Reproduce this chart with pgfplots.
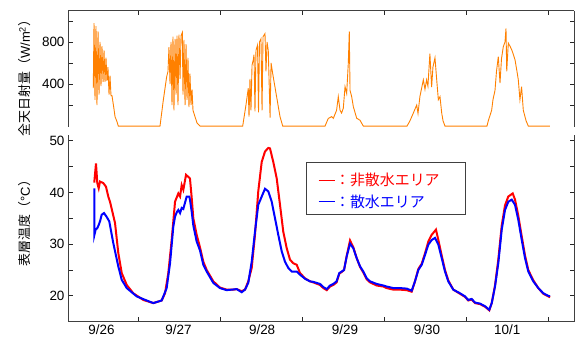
\documentclass[border=0pt]{standalone}
\usepackage{pgfplots}
\pgfplotsset{compat=1.18}
\usepackage{fontspec}
\setmainfont{Liberation Sans}
\newfontfamily\jp{Noto Sans CJK JP}
\definecolor{sunorange}{RGB}{255,128,0}
\definecolor{tred}{RGB}{255,0,0}
\definecolor{tblue}{RGB}{0,0,255}

\pgfplotstableread{
x y
0.451 360
0.460 980
0.472 250
0.484 950
0.496 200
0.509 900
0.521 300
0.533 800
0.545 380
0.557 760
0.570 420
0.582 720
0.594 420
0.606 650
0.618 430
0.630 560
0.643 300
0.655 480
0.667 290
0.679 290
0.704 160
0.716 90
0.741 40
0.756 0
1.265 0
1.302 230
1.346 470
1.362 520
1.374 750
1.387 400
1.399 800
1.411 200
1.423 850
1.435 150
1.448 830
1.460 300
1.472 860
1.484 200
1.496 870
1.509 450
1.521 860
1.537 890
1.545 300
1.557 820
1.570 200
1.582 780
1.594 250
1.606 650
1.618 180
1.630 500
1.643 200
1.655 350
1.667 150
1.691 90
1.716 30
1.752 0
2.273 0
2.313 200
2.341 360
2.350 90
2.362 450
2.374 150
2.387 580
2.402 630
2.411 680
2.423 140
2.435 720
2.454 770
2.466 130
2.478 800
2.496 830
2.509 150
2.521 850
2.545 880
2.557 520
2.570 800
2.585 720
2.607 80
2.619 600
2.643 480
2.667 370
2.704 200
2.728 90
2.761 0
3.277 0
3.317 73
3.359 90
3.378 73
3.418 150
3.439 280
3.460 150
3.479 124
3.500 170
3.521 375
3.541 310
3.561 600
3.573 900
3.582 340
3.602 280
3.622 185
3.663 75
3.704 55
3.744 0
4.277 0
4.313 50
4.354 124
4.395 200
4.411 120
4.434 280
4.476 440
4.496 350
4.516 440
4.532 380
4.556 690
4.577 370
4.593 560
4.618 650
4.639 440
4.659 250
4.679 280
4.700 124
4.716 50
4.740 0
5.252 0
5.268 50
5.309 150
5.325 250
5.350 340
5.368 520
5.390 660
5.411 410
5.429 640
5.451 755
5.472 800
5.484 930
5.493 520
5.512 790
5.533 760
5.554 725
5.570 690
5.594 630
5.618 520
5.634 440
5.654 250
5.674 375
5.695 150
5.729 50
5.756 0
6.020 0
}\sun

\pgfplotstableread{
x y
0.463 41.9
0.484 45.6
0.500 41.8
0.517 40.8
0.533 42.1
0.573 41.8
0.606 41.1
0.634 39.2
0.655 38.2
0.716 34.1
0.756 28.3
0.798 24.4
0.859 22.1
0.939 20.5
1.061 19.2
1.183 18.6
1.285 19.1
1.326 20.5
1.366 24.4
1.407 30.8
1.448 38.2
1.488 39.8
1.509 39.2
1.529 41.4
1.549 40.5
1.582 43.4
1.610 43.0
1.630 42.7
1.651 39.0
1.671 35.0
1.712 31.8
1.752 29.4
1.793 26.6
1.834 25.0
1.915 22.8
1.996 21.6
2.078 21.2
2.159 21.2
2.200 21.3
2.261 20.9
2.301 21.2
2.341 22.8
2.383 25.4
2.423 31.8
2.463 40.2
2.505 45.9
2.545 47.9
2.585 48.6
2.606 48.5
2.646 45.9
2.688 42.7
2.728 37.6
2.768 32.4
2.810 29.2
2.850 27.0
2.890 26.3
2.932 26.0
2.972 24.4
3.033 23.4
3.094 22.8
3.134 22.6
3.216 22.1
3.256 21.5
3.298 21.1
3.338 21.8
3.378 22.1
3.418 22.6
3.451 24.3
3.480 24.6
3.509 25.0
3.541 27.7
3.582 30.7
3.622 29.4
3.663 27.3
3.704 25.6
3.744 24.5
3.785 23.2
3.826 22.6
3.907 22.0
3.988 21.8
4.029 21.5
4.110 21.2
4.191 21.2
4.273 21.1
4.334 20.8
4.374 22.8
4.415 25.2
4.456 26.2
4.496 28.2
4.537 30.5
4.578 31.8
4.630 32.8
4.659 30.8
4.700 27.8
4.740 25.0
4.780 23.0
4.841 21.2
4.923 20.4
4.984 19.8
5.024 19.1
5.065 19.3
5.106 18.6
5.167 18.4
5.228 17.9
5.280 17.2
5.310 18.6
5.350 22.0
5.390 27.0
5.432 33.6
5.472 37.5
5.512 39.2
5.566 39.8
5.594 38.6
5.634 35.5
5.676 31.5
5.716 27.8
5.756 25.0
5.817 23.0
5.878 21.5
5.939 20.4
6.000 19.9
6.021 19.7
}\dry

\pgfplotstableread{
x y
0.463 40.8
0.465 31.8
0.480 32.8
0.500 33.1
0.517 33.7
0.533 34.4
0.554 35.7
0.582 36.0
0.613 35.3
0.646 34.4
0.695 30.2
0.756 25.7
0.798 23.1
0.859 21.5
0.980 19.9
1.102 19.1
1.183 18.6
1.285 19.1
1.346 21.5
1.387 26.3
1.427 33.4
1.448 35.3
1.470 36.2
1.488 36.6
1.509 36.0
1.529 37.0
1.549 36.8
1.590 39.2
1.622 39.2
1.630 38.6
1.651 36.3
1.671 33.6
1.712 30.5
1.752 28.8
1.793 26.0
1.834 24.7
1.915 22.5
1.996 21.5
2.078 21.1
2.200 21.3
2.261 20.7
2.301 21.2
2.341 22.5
2.383 26.6
2.423 32.4
2.463 37.6
2.505 39.2
2.545 40.7
2.585 40.2
2.627 38.2
2.667 35.0
2.707 31.8
2.749 28.6
2.789 26.6
2.829 25.4
2.871 24.7
2.932 24.7
2.972 24.1
3.033 23.3
3.094 22.8
3.134 22.7
3.216 22.3
3.256 21.7
3.298 21.3
3.338 22.0
3.378 22.3
3.418 22.8
3.451 24.4
3.480 24.7
3.509 25.0
3.541 27.6
3.582 30.1
3.622 29.2
3.663 27.3
3.704 25.7
3.744 24.7
3.785 23.4
3.826 22.8
3.907 22.3
3.988 22.0
4.029 21.8
4.110 21.5
4.191 21.5
4.273 21.4
4.334 21.0
4.374 22.8
4.415 25.0
4.456 26.0
4.496 27.9
4.537 29.9
4.578 30.8
4.618 31.2
4.659 29.9
4.700 27.3
4.740 24.7
4.780 22.8
4.841 21.2
4.923 20.5
4.984 19.9
5.024 19.2
5.065 19.4
5.106 18.7
5.167 18.5
5.228 18.0
5.280 17.3
5.310 18.6
5.350 21.8
5.390 26.3
5.432 32.8
5.472 36.6
5.512 38.2
5.554 38.6
5.594 37.6
5.634 34.7
5.676 30.8
5.716 27.3
5.756 24.7
5.817 22.8
5.878 21.5
5.939 20.5
6.000 20.0
6.021 19.9
}\wet

\pgfplotsset{
  common/.style={
    scale only axis, anchor=south west, width=506.3bp,
    xmin=0.1427, xmax=6.317,
    tick align=inside,
    major tick length=4.5bp, minor tick length=4.5bp,
    every tick/.style={black!85, line width=0.8bp},
    axis line style={black!75, line width=1bp},
    tick label style={font=\fontsize{13.5}{15}\selectfont},
    /pgf/number format/assume math mode=true,
    clip=false,
  }
}

\begin{document}
\begin{tikzpicture}
\useasboundingbox (0,0) rectangle (584bp,345bp);
\begin{axis}[common,
  at={(68bp,218.3bp)}, height=115.7bp,
  ymin=-6, ymax=1095,
  axis x line*=top,
  xtick={1,2,3,4,5,6}, xticklabels={},
  ytick={400,800}, minor ytick={200,600,1000},
]
\addplot[sunorange, line width=0.9bp] table[x=x,y=y] {\sun};
\end{axis}
\begin{axis}[common,
  at={(68bp,23.3bp)}, height=186.7bp,
  ymin=15, ymax=51.1,
  axis x line*=bottom,
  xtick={1,2,3,4,5,6}, xticklabels={},
  extra x ticks={0.55,1.49,2.51,3.52,4.52,5.5},
  extra x tick labels={9/26,9/27,9/28,9/29,9/30,10/1},
  extra x tick style={major tick length=0pt},
  ytick={20,30,40,50}, minor ytick={25,35,45},
]
\addplot[tred, line width=2bp] table[x=x,y=y] {\dry};
\addplot[tblue, line width=2bp] table[x=x,y=y] {\wet};
\draw[black!75, line width=0.9bp, fill=white] (rel axis cs:0.470,0.854) rectangle (rel axis cs:0.7855,0.575);
\node[anchor=west, inner sep=0pt, text=tred, font=\jp\fontsize{15}{17}\selectfont] at (rel axis cs:0.4946,0.759) {\rule[0.33em]{1.1em}{1.1bp}：非散水エリア};
\node[anchor=west, inner sep=0pt, text=tblue, font=\jp\fontsize{15}{17}\selectfont] at (rel axis cs:0.4946,0.643) {\rule[0.33em]{1.1em}{1.1bp}：散水エリア};
\end{axis}
\node[rotate=90, inner sep=0pt, font=\fontsize{13}{15}\selectfont] at (25bp,270bp) {{\jp 全天日射量（}W/m\textsuperscript{2}{\jp ）}};
\node[rotate=90, inner sep=0pt, font=\fontsize{13}{15}\selectfont] at (25bp,125bp) {{\jp 表層温度（}°C{\jp ）}};
\end{tikzpicture}
\end{document}
